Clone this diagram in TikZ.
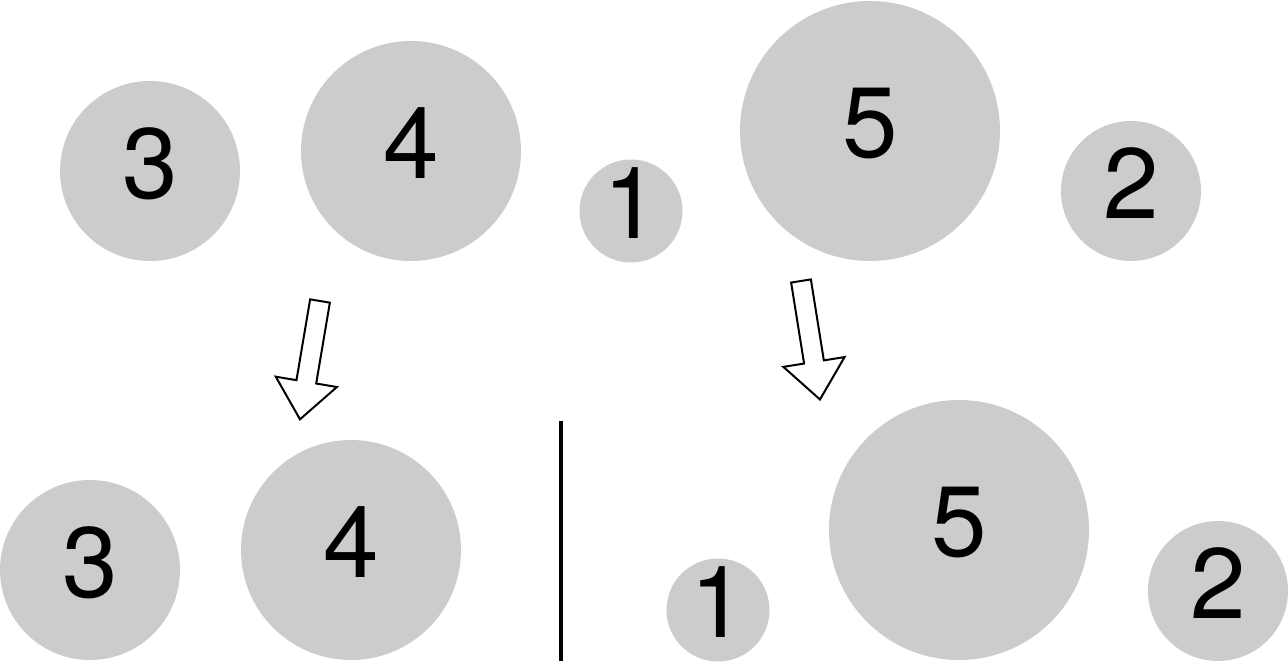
\documentclass[tikz,border=0pt]{standalone}
\usepackage{fontspec}
\setmainfont{TeX Gyre Heros}
\definecolor{ballgray}{HTML}{CCCCCC}
\tikzset{
  ball/.style={circle, fill=ballgray, draw=none, inner sep=0pt, text depth=16pt,
    font=\fontsize{100}{100}\selectfont, minimum size=#1},
  harrow/.pic={
    \draw[line width=2pt, line join=miter, fill=white]
      (0,10) -- (82,10) -- (82,31) -- (120,0) -- (82,-31) -- (82,-10) -- (0,-10) -- cycle;
  },
  divider/.style={line width=3.5pt}
}
\begin{document}
\begin{tikzpicture}[x=1pt,y=1pt]
\useasboundingbox (0,0) rectangle (1288,-668);
% top row
\node[ball=180pt] (t3) at (150,-171) {3};
\node[ball=220pt] (t4) at (411,-151) {4};
\node[ball=100pt] (t1) at (631,-211) {1};
\node[ball=260pt] (t5) at (870,-131) {5};
\node[ball=140pt] (t2) at (1131,-191) {2};
% bottom row
\node[ball=180pt] (b3) at (90,-570) {3};
\node[ball=220pt] (b4) at (351,-550) {4};
\node[ball=100pt] (b1) at (718,-610) {1};
\node[ball=260pt] (b5) at (959,-530) {5};
\node[ball=140pt] (b2) at (1218,-591) {2};
% arrows
\coordinate (a1) at (320,-301);
\coordinate (a2) at (801,-281);
\pic[rotate=-99.6] at (a1) {harrow};
\pic[rotate=-80.9] at (a2) {harrow};
% divider
\coordinate (d1) at (561,-421);
\coordinate (d2) at (561,-661);
\draw[divider] (d1) -- (d2);
\end{tikzpicture}
\end{document}
